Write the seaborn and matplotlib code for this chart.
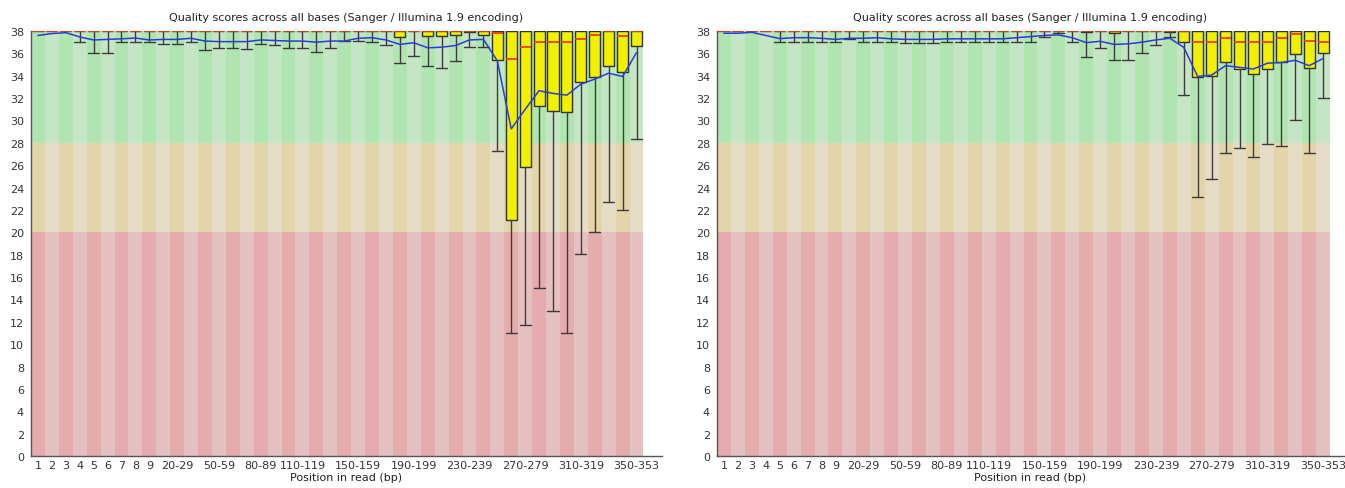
import matplotlib
matplotlib.use("Agg")
import matplotlib.pyplot as plt
import seaborn as sns
import pandas as pd

sns.set_style("white")
plt.rcParams["font.family"] = ["DejaVu Sans"]

# position bins along the read (FastQC grouping)
positions = ([str(i) for i in range(1, 10)]
             + [f"{s}-{s + 9}" for s in range(10, 350, 10)]
             + ["350-353"])
shown_labels = ["1", "2", "3", "4", "5", "6", "7", "8", "9", "20-29", "50-59",
                "80-89", "110-119", "150-159", "190-199", "230-239",
                "270-279", "310-319", "350-353"]

# ---- left sample ----
mean_left = [37.6, 37.77, 37.85, 37.47, 37.2, 37.25, 37.3, 37.37, 37.2, 37.25,
             37.25, 37.35, 37.1, 37.05, 37.05, 37.05, 37.2, 37.15, 37.1, 37.1,
             37.0, 37.1, 37.1, 37.35, 37.4, 37.2, 36.8, 36.95, 36.5, 36.55,
             36.7, 37.2, 37.25, 35.33, 29.25, 31.0, 32.66, 32.42, 32.27, 33.25,
             33.7, 34.23, 33.93, 36.07]
median_left = [38] * 33 + [37.85, 35.48, 36.58, 37.02, 37.02, 37.02, 37.32,
                           37.62, 38, 37.56, 38]
q1_left = ([38] * 26 + [37.5, 38, 37.55, 37.55, 37.6, 37.9, 37.6, 35.42, 21.08,
                        25.84, 31.33, 30.84, 30.73, 33.46, 33.9, 34.83, 34.37,
                        36.67])
low_left = [38, 38, 38, 37.0, 36.0, 36.0, 37.0, 37.0, 37.0, 36.85,
            36.85, 37.0, 36.3, 36.45, 36.45, 36.4, 36.85, 36.75, 36.45, 36.45,
            36.1, 36.45, 37.08, 37.1, 37.05, 36.75, 35.15, 35.8, 34.9, 34.7,
            35.3, 36.6, 36.6, 27.3, 11.0, 11.75, 15.0, 12.93, 11.0, 18.06,
            20.0, 22.74, 22.04, 28.37]

# ---- right sample ----
mean_right = [37.8, 37.8, 37.88, 37.6, 37.32, 37.4, 37.4, 37.35, 37.25, 37.35,
              37.35, 37.4, 37.3, 37.25, 37.25, 37.25, 37.3, 37.3, 37.3, 37.3,
              37.3, 37.4, 37.5, 37.6, 37.65, 37.4, 36.96, 37.08, 36.8, 36.85,
              37.0, 37.2, 37.35, 36.54, 33.93, 34.06, 34.9, 34.75, 34.6, 35.12,
              35.18, 35.38, 34.9, 35.54]
median_right = [38] * 34 + [37.02, 37.02, 37.35, 37.02, 37.02, 37.02, 37.35,
                            37.7, 37.14, 37.02]
q1_right = ([38] * 26 + [37.9, 38, 37.85, 38, 38, 38, 37.9, 37.05, 33.9, 34.0,
                         35.21, 34.57, 34.12, 34.6, 35.2, 35.98, 34.68, 36.05])
low_right = [38, 38, 38, 38, 37.0, 37.0, 37.0, 37.0, 37.0, 37.25,
             37.0, 37.0, 37.0, 36.95, 36.95, 36.95, 37.0, 37.0, 37.0, 37.0,
             37.0, 37.0, 37.0, 37.5, 37.8, 37.0, 35.72, 36.52, 35.44, 35.44,
             36.05, 36.76, 37.5, 32.27, 23.16, 24.8, 27.1, 27.53, 26.73, 27.91,
             27.76, 30.02, 27.1, 32.0]

# background zones: (bottom, top, dark, light)
zones = [(28, 38, "#b0e4b0", "#c5e6c5"),
         (20, 28, "#e4d4aa", "#e4dcc4"),
         (0, 20, "#e4acac", "#e4c0c0")]

TITLE = "Quality scores across all bases (Sanger / Illumina 1.9 encoding)"


def draw_panel(ax, mean, median, q1, low, xmax):
    x = list(range(len(positions)))
    for bottom, top, dark, light in zones:
        ax.bar(x, top - bottom, bottom=bottom, width=1.0,
               color=[dark if i % 2 == 0 else light for i in x],
               linewidth=0, zorder=0)

    stats = [dict(med=median[i], q1=q1[i], q3=38, whislo=low[i], whishi=38,
                  label=positions[i]) for i in x]
    parts = ax.bxp(stats, positions=x, widths=0.8, capwidths=0.8,
                   showfliers=False, patch_artist=True, manage_ticks=False,
                   boxprops=dict(facecolor="#f0f000", edgecolor="#333333",
                                 linewidth=1.0),
                   whiskerprops=dict(color="#3c3c3c", linewidth=1.0),
                   capprops=dict(color="#3c3c3c", linewidth=1.0),
                   medianprops=dict(color="#e8400c", linewidth=1.3))
    for m in parts["medians"]:
        m.set_zorder(5)
    # upper caps sit on the top edge; hide them and the empty lower ones
    for i, cap in enumerate(parts["caps"]):
        if i % 2 == 1 or low[i // 2] >= 38:
            cap.set_visible(False)

    df = pd.DataFrame({"pos": x, "mean": mean})
    sns.lineplot(data=df, x="pos", y="mean", ax=ax, color="#2a3cd8",
                 linewidth=1.1, zorder=6)

    ax.set_xlim(-0.5, xmax)
    ax.set_ylim(0, 38)
    ax.set_yticks(range(0, 39, 2))
    ax.set_xticks([positions.index(s) for s in shown_labels])
    ax.set_xticklabels(shown_labels)
    ax.tick_params(axis="both", length=0, labelsize=8, colors="#333333")
    ax.tick_params(axis="x", pad=3)
    ax.tick_params(axis="y", pad=5)
    for side in ["top", "right"]:
        ax.spines[side].set_visible(False)
    for side in ["left", "bottom"]:
        ax.spines[side].set_color("#555555")
        ax.spines[side].set_linewidth(1.0)
    ax.set_title(TITLE, fontsize=8, color="#222222", pad=8)
    ax.set_xlabel("Position in read (bp)", fontsize=8, color="#222222",
                  labelpad=1)
    ax.set_ylabel("")


W, H = 1345, 489
fig = plt.figure(figsize=(W / 100, H / 100), dpi=100)
ax_left = fig.add_axes([31 / W, 32 / H, 631 / W, 425 / H])
ax_right = fig.add_axes([717 / W, 32 / H, 627 / W, 425 / H])

draw_panel(ax_left, mean_left, median_left, q1_left, low_left, 44.83)
draw_panel(ax_right, mean_right, median_right, q1_right, low_right, 44.5)

fig.savefig("out.png", dpi=100)
